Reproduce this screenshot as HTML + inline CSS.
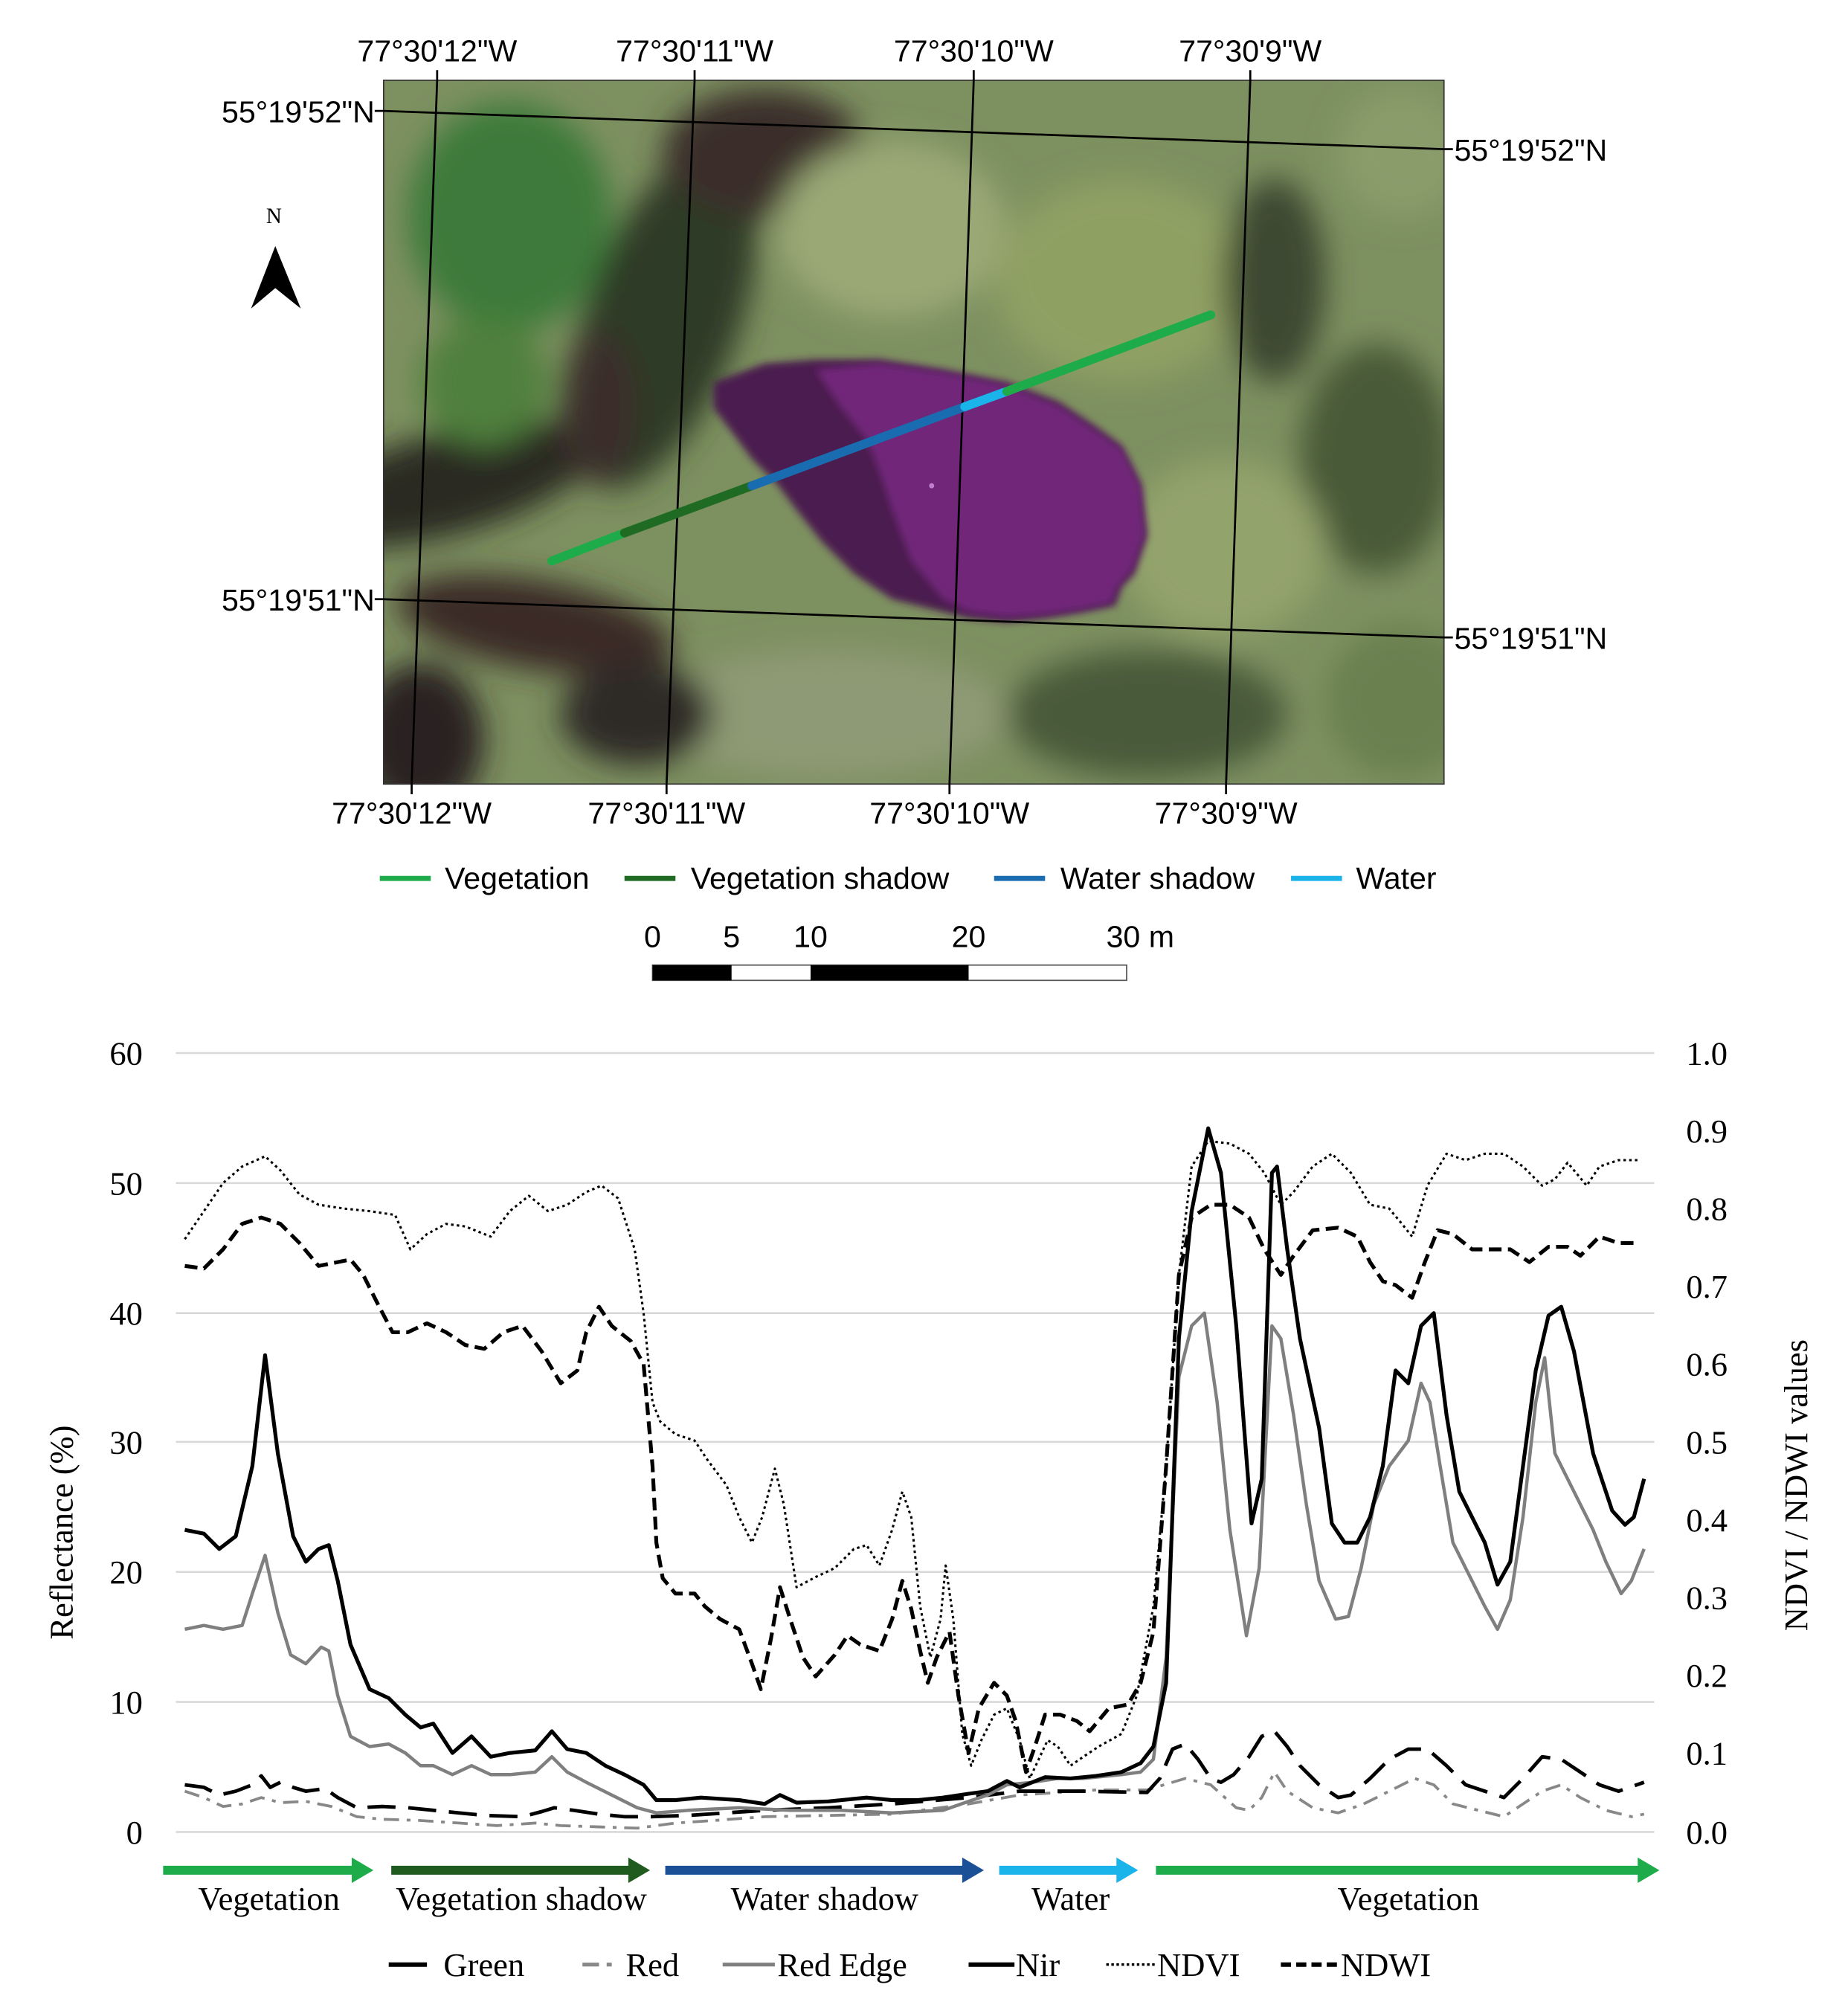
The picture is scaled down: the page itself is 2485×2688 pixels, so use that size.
<!DOCTYPE html>
<html><head><meta charset="utf-8"><style>html,body{margin:0;padding:0;background:#fff}svg{display:block}</style></head>
<body>
<svg width="2485" height="2688" viewBox="0 0 1450 1568" preserveAspectRatio="none" xmlns="http://www.w3.org/2000/svg">
<defs>
<clipPath id="mc"><rect x="301" y="63" width="832" height="552"/></clipPath>
<filter id="bl" x="-20%" y="-20%" width="140%" height="140%"><feGaussianBlur stdDeviation="12"/></filter>
<filter id="bl2"><feGaussianBlur stdDeviation="3"/></filter>
</defs>
<rect width="1450" height="1568" fill="#fff"/>
<!-- MAP -->
<g clip-path="url(#mc)">
<rect x="301" y="63" width="832" height="552" fill="#7d9060"/>
<g filter="url(#bl)">
<ellipse cx="400" cy="170" rx="80" ry="90" fill="#3e7a3a"/>
<ellipse cx="520" cy="250" rx="60" ry="140" fill="#2e3a26" transform="rotate(20 520 250)"/>
<ellipse cx="600" cy="120" rx="80" ry="50" fill="#3a2e2c"/>
<ellipse cx="350" cy="380" rx="120" ry="40" fill="#2a2a24" transform="rotate(-15 350 380)"/>
<ellipse cx="420" cy="490" rx="110" ry="35" fill="#3a2a28" transform="rotate(10 420 490)"/>
<ellipse cx="330" cy="580" rx="50" ry="60" fill="#2a2024"/>
<ellipse cx="700" cy="180" rx="90" ry="70" fill="#9aa876"/>
<ellipse cx="880" cy="220" rx="100" ry="80" fill="#8fa064"/>
<ellipse cx="1000" cy="220" rx="40" ry="80" fill="#3e4a30"/>
<ellipse cx="1080" cy="360" rx="60" ry="90" fill="#4a5a38"/>
<ellipse cx="960" cy="430" rx="80" ry="70" fill="#93a36c"/>
<ellipse cx="650" cy="560" rx="140" ry="50" fill="#8e9a74"/>
<ellipse cx="900" cy="560" rx="110" ry="50" fill="#4a5a3a"/>
<ellipse cx="1100" cy="550" rx="60" ry="60" fill="#6a8050"/>
<ellipse cx="380" cy="300" rx="50" ry="50" fill="#50803e"/>
<ellipse cx="470" cy="320" rx="30" ry="60" fill="#3a2e2a"/>
<ellipse cx="1100" cy="120" rx="50" ry="50" fill="#8a9c6a"/>
<ellipse cx="500" cy="560" rx="60" ry="40" fill="#2e2a26"/>
</g>
<polygon filter="url(#bl2)" fill="#4c1f50" points="560,300 600,285 640,282 690,282 740,290 790,300 830,315 860,335 880,350 895,380 900,420 890,450 880,460 875,475 850,480 820,485 790,488 760,485 740,480 700,470 670,450 645,425 625,400 610,380 590,360 575,340 560,320"/>
<polygon filter="url(#bl2)" fill="#712679" points="640,290 690,285 740,292 790,302 830,318 860,338 880,352 895,382 898,420 888,448 877,460 872,473 848,478 818,482 790,484 760,480 740,470 715,440 700,400 690,370 680,345 660,320"/>
<circle cx="731" cy="381" r="2" fill="#c080d0"/>
</g>
<rect x="301" y="63" width="832" height="552" fill="none" stroke="#333" stroke-width="1"/>
<g stroke="#000" stroke-width="1.6">
<line x1="301" y1="87" x2="1133" y2="117"/><line x1="301" y1="470" x2="1133" y2="500"/>
<line x1="343" y1="63" x2="323" y2="615"/><line x1="545" y1="63" x2="523" y2="615"/>
<line x1="764" y1="63" x2="745" y2="615"/><line x1="981" y1="63" x2="962" y2="615"/>
<line x1="343" y1="55" x2="343" y2="63"/><line x1="545" y1="55" x2="545" y2="63"/><line x1="764" y1="55" x2="764" y2="63"/><line x1="981" y1="55" x2="981" y2="63"/>
<line x1="323" y1="615" x2="323" y2="623"/><line x1="523" y1="615" x2="523" y2="623"/><line x1="745" y1="615" x2="745" y2="623"/><line x1="962" y1="615" x2="962" y2="623"/>
<line x1="294" y1="87" x2="301" y2="87"/><line x1="294" y1="470" x2="301" y2="470"/>
<line x1="1133" y1="117" x2="1140" y2="117"/><line x1="1133" y1="500" x2="1140" y2="500"/>
</g>
<g stroke-width="7" stroke-linecap="round">
<line x1="433" y1="440" x2="490" y2="418" stroke="#1eab4a"/>
<line x1="490" y1="418" x2="590" y2="381" stroke="#1f6b24"/>
<line x1="590" y1="381" x2="757" y2="319" stroke="#1a6cb0"/>
<line x1="757" y1="319" x2="790" y2="307" stroke="#1ab4ea"/>
<line x1="790" y1="307" x2="950" y2="247" stroke="#1eab4a"/>
</g>
<g font-family="Liberation Sans, sans-serif" font-size="24" fill="#000">
<g text-anchor="middle">
<text x="343" y="48">77°30'12"W</text><text x="545" y="48">77°30'11"W</text><text x="764" y="48">77°30'10"W</text><text x="981" y="48">77°30'9"W</text>
<text x="323" y="646">77°30'12"W</text><text x="523" y="646">77°30'11"W</text><text x="745" y="646">77°30'10"W</text><text x="962" y="646">77°30'9"W</text>
</g>
<g text-anchor="end"><text x="294" y="96">55°19'52"N</text><text x="294" y="479">55°19'51"N</text></g>
<text x="1141" y="126">55°19'52"N</text><text x="1141" y="509">55°19'51"N</text>
<text x="349" y="697">Vegetation</text><text x="542" y="697">Vegetation shadow</text><text x="832" y="697">Water shadow</text><text x="1064" y="697">Water</text>
<g text-anchor="middle"><text x="512" y="743">0</text><text x="574" y="743">5</text><text x="636" y="743">10</text><text x="760" y="743">20</text></g>
<text x="868" y="743">30 m</text>
</g>
<g stroke-width="4"><line x1="298" y1="689" x2="338" y2="689" stroke="#1eab4a"/><line x1="490" y1="689" x2="530" y2="689" stroke="#1f6b24"/><line x1="780" y1="689" x2="820" y2="689" stroke="#1a6cb0"/><line x1="1013" y1="689" x2="1053" y2="689" stroke="#1ab4ea"/></g>
<text x="215" y="175" font-family="Liberation Serif, serif" font-size="17" text-anchor="middle">N</text>
<polygon points="216,193 197,242 216,226 236,242" fill="#000"/>
<rect x="512" y="757" width="372" height="12" fill="#fff" stroke="#555" stroke-width="1"/>
<rect x="512" y="757" width="62" height="12" fill="#000"/><rect x="636" y="757" width="124" height="12" fill="#000"/>
<!-- CHART -->
<g stroke="#d9d9d9" stroke-width="1.5">
<line x1="138" y1="826" x2="1298" y2="826"/><line x1="138" y1="928" x2="1298" y2="928"/><line x1="138" y1="1030" x2="1298" y2="1030"/><line x1="138" y1="1131" x2="1298" y2="1131"/><line x1="138" y1="1233" x2="1298" y2="1233"/><line x1="138" y1="1335" x2="1298" y2="1335"/><line x1="138" y1="1437" x2="1298" y2="1437"/>
</g>
<g font-family="Liberation Serif, serif" font-size="26" fill="#000">
<g text-anchor="end"><text x="112" y="835">60</text><text x="112" y="937">50</text><text x="112" y="1039">40</text><text x="112" y="1140">30</text><text x="112" y="1242">20</text><text x="112" y="1344">10</text><text x="112" y="1446">0</text></g>
<g><text x="1323" y="835">1.0</text><text x="1323" y="896">0.9</text><text x="1323" y="957">0.8</text><text x="1323" y="1018">0.7</text><text x="1323" y="1079">0.6</text><text x="1323" y="1140">0.5</text><text x="1323" y="1201">0.4</text><text x="1323" y="1262">0.3</text><text x="1323" y="1323">0.2</text><text x="1323" y="1384">0.1</text><text x="1323" y="1446">0.0</text></g>
<text transform="translate(57,1202) rotate(-90)" text-anchor="middle">Reflectance (%)</text>
<text transform="translate(1418,1165) rotate(-90)" text-anchor="middle">NDVI / NDWI values</text>
<g text-anchor="middle"><text x="211" y="1498">Vegetation</text><text x="409" y="1498">Vegetation shadow</text><text x="647" y="1498">Water shadow</text><text x="840" y="1498">Water</text><text x="1105" y="1498">Vegetation</text></g>
<text x="348" y="1550">Green</text><text x="491" y="1550">Red</text><text x="610" y="1550">Red Edge</text><text x="797" y="1550">Nir</text><text x="908" y="1550">NDVI</text><text x="1052" y="1550">NDWI</text>
</g>
<!-- arrows -->
<g stroke-width="7">
<line x1="128" y1="1467" x2="278" y2="1467" stroke="#1eab4a"/><polygon points="276,1457 293,1467 276,1477" fill="#1eab4a"/>
<line x1="307" y1="1467" x2="495" y2="1467" stroke="#1f5a1f"/><polygon points="493,1457 510,1467 493,1477" fill="#1f5a1f"/>
<line x1="522" y1="1467" x2="757" y2="1467" stroke="#1b4f96"/><polygon points="755,1457 772,1467 755,1477" fill="#1b4f96"/>
<line x1="784" y1="1467" x2="878" y2="1467" stroke="#1ab4ea"/><polygon points="876,1457 893,1467 876,1477" fill="#1ab4ea"/>
<line x1="907" y1="1467" x2="1287" y2="1467" stroke="#1eab4a"/><polygon points="1285,1457 1302,1467 1285,1477" fill="#1eab4a"/>
</g>
<!-- legend lines -->
<line x1="305" y1="1541" x2="335" y2="1541" stroke="#000" stroke-width="3.5"/>
<line x1="457" y1="1541" x2="470" y2="1541" stroke="#888" stroke-width="3"/><line x1="476" y1="1541" x2="480" y2="1541" stroke="#888" stroke-width="3"/>
<line x1="567" y1="1541" x2="608" y2="1541" stroke="#808080" stroke-width="3"/>
<line x1="760" y1="1541" x2="796" y2="1541" stroke="#000" stroke-width="3.5"/>
<line x1="868" y1="1541" x2="906" y2="1541" stroke="#000" stroke-width="2" stroke-dasharray="2 2"/>
<line x1="1005" y1="1541" x2="1050" y2="1541" stroke="#000" stroke-width="3.5" stroke-dasharray="8 4"/>
<!-- series -->
<g fill="none" stroke-linejoin="round" stroke-linecap="butt">
<polyline stroke="#888" stroke-width="2.2" stroke-dasharray="12 6 3 6" points="145,1405 160,1410 175,1417 190,1415 205,1410 220,1414 240,1413 260,1417 280,1425 300,1427 330,1428 360,1430 390,1432 420,1430 440,1432 470,1433 500,1434 530,1430 560,1428 600,1425 650,1424 700,1423 760,1415 800,1408 860,1404 900,1404 930,1395 950,1400 970,1418 980,1420 990,1410 1000,1390 1010,1405 1030,1418 1050,1422 1070,1415 1090,1405 1110,1395 1125,1400 1140,1415 1160,1420 1180,1425 1195,1415 1210,1405 1225,1400 1240,1410 1260,1420 1280,1425 1290,1423"/>
<polyline stroke="#000" stroke-width="2.8" stroke-dasharray="22 10" points="145,1400 160,1402 172,1408 185,1405 198,1400 205,1393 212,1402 220,1398 230,1402 240,1405 255,1403 265,1410 280,1418 300,1417 320,1418 340,1420 360,1422 380,1424 410,1425 425,1421 435,1418 450,1420 470,1423 490,1425 510,1425 540,1424 600,1420 650,1418 700,1415 760,1410 800,1405 850,1405 900,1406 910,1395 920,1372 930,1368 940,1380 950,1395 958,1398 968,1392 980,1378 990,1362 1000,1358 1010,1370 1020,1385 1035,1400 1050,1410 1060,1408 1075,1395 1090,1380 1105,1372 1120,1372 1135,1385 1150,1400 1165,1405 1180,1410 1195,1395 1210,1378 1225,1380 1240,1390 1255,1400 1270,1405 1290,1398"/>
<polyline stroke="#7f7f7f" stroke-width="2.6" points="145,1278 160,1275 175,1278 190,1275 198,1250 208,1220 218,1265 228,1298 240,1305 252,1292 258,1295 265,1330 275,1362 290,1370 305,1368 318,1375 330,1385 340,1385 355,1392 370,1385 385,1392 400,1392 420,1390 433,1378 445,1390 460,1398 480,1408 500,1418 515,1422 540,1420 580,1418 620,1420 660,1420 700,1422 740,1420 760,1413 775,1408 790,1400 810,1398 830,1395 850,1395 880,1392 895,1390 905,1380 915,1300 925,1080 935,1040 945,1030 955,1100 965,1200 978,1283 988,1230 998,1040 1005,1050 1015,1110 1025,1180 1035,1240 1048,1270 1058,1268 1068,1230 1078,1180 1090,1150 1105,1130 1115,1085 1122,1100 1130,1150 1140,1210 1155,1240 1165,1260 1175,1278 1185,1255 1195,1190 1205,1100 1212,1065 1220,1140 1235,1170 1250,1200 1260,1225 1272,1250 1280,1240 1290,1215"/>
<polyline stroke="#000" stroke-width="3" points="145,1200 160,1203 172,1215 185,1205 198,1150 208,1063 218,1140 230,1205 240,1225 250,1215 258,1212 265,1240 275,1290 290,1325 305,1332 318,1345 330,1355 340,1352 355,1375 370,1362 385,1378 400,1375 420,1373 433,1358 445,1372 460,1375 475,1385 490,1392 505,1400 515,1412 530,1412 550,1410 580,1412 600,1415 612,1408 625,1414 650,1413 680,1410 700,1412 720,1412 740,1410 760,1407 775,1405 790,1397 800,1402 820,1394 840,1395 860,1393 880,1390 895,1383 905,1370 915,1320 925,1050 935,950 948,885 958,920 970,1040 982,1195 990,1160 998,920 1002,915 1010,980 1020,1050 1035,1120 1045,1195 1055,1210 1065,1210 1075,1190 1085,1150 1095,1075 1105,1085 1115,1040 1125,1030 1135,1110 1145,1170 1155,1190 1165,1210 1175,1243 1185,1225 1195,1150 1205,1075 1215,1032 1225,1025 1235,1060 1250,1140 1265,1185 1275,1196 1282,1190 1290,1160"/>
<polyline stroke="#000" stroke-width="1.8" stroke-dasharray="2 2.5" points="145,972 160,950 175,928 190,915 208,907 220,918 235,937 250,945 270,948 290,950 310,953 322,980 335,968 350,960 365,962 385,970 400,950 415,938 430,950 445,945 460,935 472,930 485,940 498,980 505,1030 512,1100 518,1115 530,1125 545,1130 555,1145 570,1165 580,1190 590,1210 598,1190 608,1152 615,1180 625,1245 640,1237 655,1230 670,1215 680,1212 690,1228 700,1200 708,1170 715,1190 722,1260 730,1300 738,1270 742,1228 748,1270 755,1360 762,1385 770,1365 780,1345 790,1340 800,1365 808,1395 815,1380 822,1365 830,1370 840,1385 850,1378 862,1370 880,1360 892,1330 905,1260 915,1150 925,1000 935,915 948,895 965,897 980,905 992,920 1005,945 1015,935 1030,915 1045,905 1060,920 1075,945 1090,948 1100,960 1108,970 1120,930 1135,905 1150,910 1165,905 1180,905 1195,915 1210,930 1220,925 1230,912 1245,930 1255,915 1270,910 1285,910"/>
<polyline stroke="#000" stroke-width="3" stroke-dasharray="10 5" points="145,993 160,995 175,980 190,960 205,955 220,960 235,975 250,993 265,990 275,988 285,1000 295,1020 308,1045 320,1045 335,1038 350,1045 365,1055 380,1058 395,1045 410,1040 425,1060 440,1085 453,1075 460,1045 470,1025 480,1040 495,1052 505,1070 512,1150 515,1210 520,1238 530,1250 545,1250 553,1260 565,1270 580,1278 590,1305 597,1325 605,1285 612,1245 620,1270 630,1300 640,1315 655,1298 665,1283 675,1290 690,1295 700,1270 708,1240 715,1262 722,1295 728,1320 735,1300 745,1280 752,1330 760,1375 768,1340 780,1320 790,1330 797,1350 805,1390 812,1370 820,1345 832,1345 845,1350 855,1358 870,1340 885,1337 895,1320 905,1280 915,1150 925,1000 935,955 950,945 965,945 980,955 992,980 1005,1000 1015,985 1030,965 1050,963 1065,970 1075,990 1085,1005 1095,1008 1108,1018 1118,990 1128,965 1140,968 1155,980 1170,980 1185,980 1200,990 1215,978 1230,978 1240,985 1255,970 1270,975 1285,975"/>
</g>
</svg>
</body></html>
